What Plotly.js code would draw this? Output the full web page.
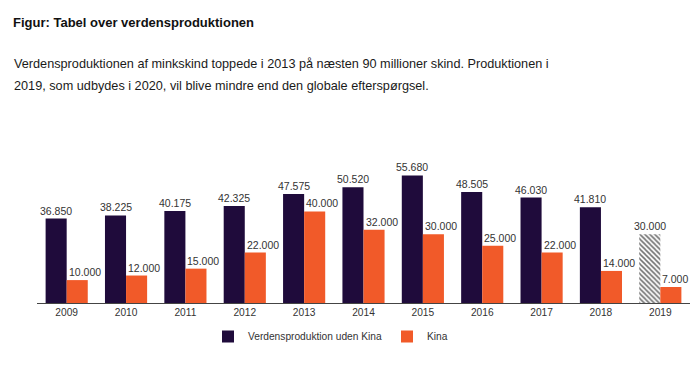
<!DOCTYPE html>
<html>
<head>
<meta charset="utf-8">
<script src="https://cdn.plot.ly/plotly-3.0.1.min.js"></script>
<style>html,body{margin:0;padding:0;background:#fff;}#chart{width:698px;height:380px;}</style>
</head>
<body>
<div id="chart"></div>
<script>
const years = ['2009','2010','2011','2012','2013','2014','2015','2016','2017','2018','2019'];
const udenKina = [36850, 38225, 40175, 42325, 47575, 50520, 55680, 48505, 46030, 41810, 30000];
const kina = [10000, 12000, 15000, 22000, 40000, 32000, 30000, 25000, 22000, 14000, 7000];
const seriesNames = ['Verdensproduktion uden Kina', 'Kina'];
const titleText = 'Figur: Tabel over verdensproduktionen';
const paragraphLines = [
  'Verdensproduktionen af minkskind toppede i 2013 på næsten 90 millioner skind. Produktionen i',
  '2019, som udbydes i 2020, vil blive mindre end den globale efterspørgsel.'
];

const DARK = '#1f0b3b', ORANGE = '#f15a29', HATCH = '#707070';
const FONT = 'Liberation Sans, Arial, sans-serif';
const lastIdx = years.length - 1;
const darkColors = years.map((y, i) => i === lastIdx ? HATCH : DARK);
const darkShapes = years.map((y, i) => i === lastIdx ? '\\' : '');
const fmt = v => String(v).replace(/\B(?=(\d{3})+(?!\d))/g, '.');

const traces = [
  {
    type: 'bar', name: seriesNames[0], x: years, y: udenKina,
    marker: {color: darkColors, pattern: {shape: darkShapes, bgcolor: '#e2e2e2', size: 3.5, solidity: 0.45}},
    hoverinfo: 'skip'
  },
  {
    type: 'bar', name: seriesNames[1], x: years, y: kina,
    marker: {color: ORANGE},
    hoverinfo: 'skip'
  }
];

const L = 37, R = 8, T = 161, B = 77, W = 698, H = 380;
const pw = W - L - R, ph = H - T - B;
const px2x = px => (px - L) / pw;
const py2y = py => (H - B - py) / ph;

const BARGAP = 0.29;
const catPx = pw / years.length;
const barPx = catPx * (1 - BARGAP) / 2;

const labelFont = {family: FONT, size: 10.5, color: '#333'};
const valueLabels = [];
years.forEach((yr, i) => {
  valueLabels.push({x: i, y: udenKina[i], xref: 'x', yref: 'y', text: fmt(udenKina[i]),
    xanchor: 'center', yanchor: 'bottom', xshift: -barPx / 2, yshift: 0, showarrow: false, font: labelFont});
  valueLabels.push({x: i, y: kina[i], xref: 'x', yref: 'y', text: fmt(kina[i]),
    xanchor: 'left', yanchor: 'bottom', xshift: 0, yshift: 0, showarrow: false, font: labelFont});
});

const textNotes = paragraphLines.map((t, i) => ({
  text: t, xref: 'paper', yref: 'paper', x: px2x(12), y: py2y(64 + i * 22),
  xanchor: 'left', yanchor: 'middle', showarrow: false, align: 'left',
  font: {family: FONT, size: 12.7, color: '#1a1a1a'}
}));

const layout = {
  width: W, height: H,
  margin: {l: L, r: R, t: T, b: B, pad: 0},
  paper_bgcolor: '#fff', plot_bgcolor: '#fff',
  barmode: 'group', bargap: BARGAP, bargroupgap: 0,
  font: {family: FONT, color: '#333'},
  title: {
    text: titleText, x: 13 / W, xanchor: 'left', xref: 'container',
    y: 1 - 22.5 / H, yanchor: 'middle', yref: 'container',
    font: {family: FONT, size: 13, weight: 'bold', color: '#111'}
  },
  xaxis: {
    type: 'category', categoryorder: 'array', categoryarray: years,
    range: [-0.5, years.length - 0.5], autorange: false,
    showline: true, linecolor: '#444', linewidth: 1,
    ticks: '', showgrid: false, zeroline: false,
    tickfont: {family: FONT, size: 10.2, color: '#333'}
  },
  yaxis: {visible: false, range: [0, 62000], showgrid: false, zeroline: false},
  showlegend: true,
  legend: {
    orientation: 'h', x: px2x(330.5), xanchor: 'center', y: py2y(322), yanchor: 'top',
    font: {family: FONT, size: 10.2, color: '#333'},
    traceorder: 'normal', itemclick: false
  },
  annotations: textNotes.concat(valueLabels)
};

Plotly.newPlot('chart', traces, layout, {displayModeBar: false, staticPlot: true});
</script>
</body>
</html>
